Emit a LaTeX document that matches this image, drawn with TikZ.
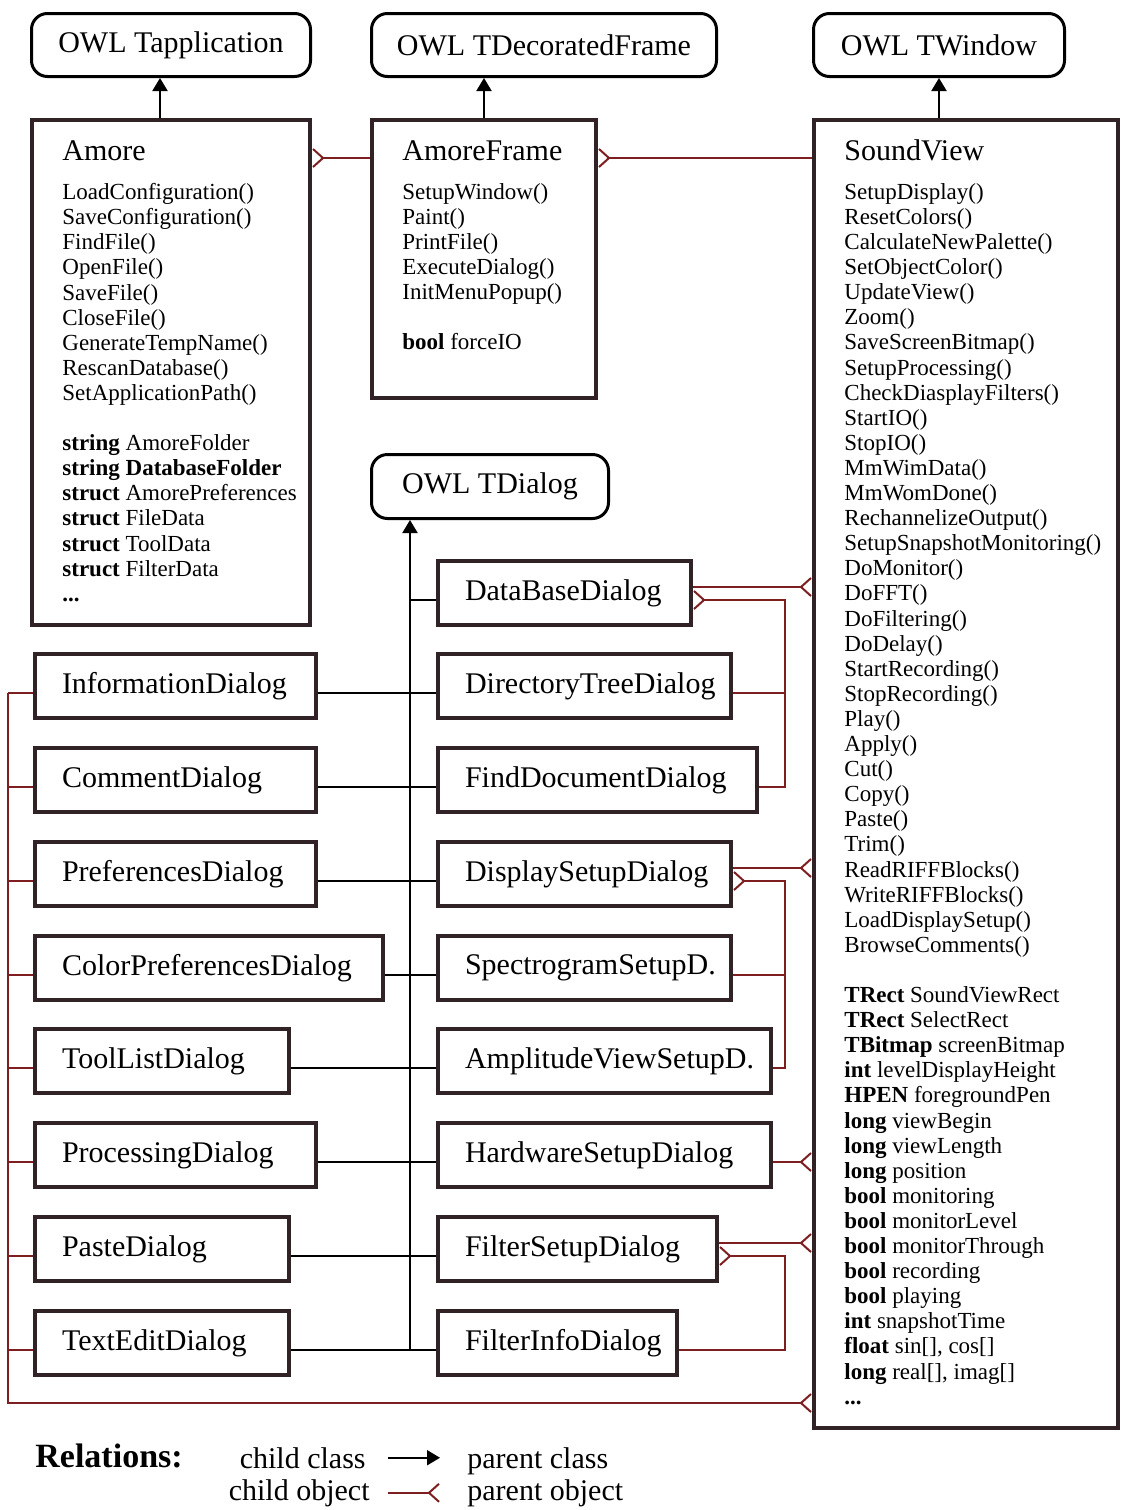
\documentclass[tikz,border=0pt]{standalone}
\usepackage{fontspec}
\setmainfont{Liberation Serif}
\usetikzlibrary{arrows.meta,positioning}
\definecolor{framebrown}{RGB}{48,34,37}
\definecolor{ownred}{RGB}{125,30,32}
\newcommand{\namefont}{\fontsize{15}{18}\selectfont}
\newcommand{\memberfont}{\fontsize{11.5}{12.55}\selectfont}
\newcommand{\owl}[6]{\pgfmathsetmacro{\boxw}{(#4-3)/2}\pgfmathsetmacro{\boxh}{(#5-3)/2}%
  \node[owlframe, minimum width=\boxw pt, minimum height=\boxh pt] (#1) at (#2,#3) {#6};}
\newcommand{\dlg}[5]{\pgfmathsetmacro{\boxw}{(#4-58)/2}%
  \node[dlgframe, text width=\boxw pt] (#1) at (#2,#3) {#5};}
\newcommand{\cls}[5]{\pgfmathsetmacro{\boxw}{(#4-4)/2}\pgfmathsetmacro{\boxh}{(#5-4)/2}%
  \node[classframe, minimum width=\boxw pt, minimum height=\boxh pt] (#1) at (#2,#3) {};}
\tikzset{
  owlframe/.style={draw=black, line width=1.5pt, rounded corners=8pt, anchor=north west, inner sep=0pt, font=\namefont},
  dlgframe/.style={draw=framebrown, line width=2pt, anchor=north west, minimum height=32pt, inner xsep=13.5pt, inner ysep=0pt, align=left, font=\namefont},
  classframe/.style={draw=framebrown, line width=2pt, anchor=north west, inner sep=0pt},
  classname/.style={anchor=base west, inner sep=0pt, font=\namefont},
  members/.style={anchor=north west, inner sep=0pt, align=left, font=\memberfont},
  legendtext/.style={inner sep=0pt, font=\namefont},
  classline/.style={draw=black, line width=1pt},
  classarrow/.style={classline, -{Triangle[length=6.5pt,width=7.5pt]}},
  objline/.style={draw=ownred, line width=1pt},
  objfoot/.style={objline, -{Straight Barb[reversed,length=5pt,width=9pt]}}
}

\begin{document}
\begin{tikzpicture}[x=0.5pt,y=-0.5pt]
\useasboundingbox (0,0) rectangle (1122,1510);
\owl{owlapp}{30}{12}{282}{66}{OWL Tapplication}
\owl{owlframe}{370}{12}{348}{66}{OWL TDecoratedFrame}
\owl{owlwin}{812}{12}{254}{66}{OWL TWindow}
\owl{owldlg}{370}{453}{240}{67}{OWL TDialog}

\cls{amore}{30}{118}{282}{509}
\node[classname] (amore-name) at ([xshift=16pt,yshift=-21pt]amore.north west) {Amore};
\node[members] (amore-list) at ([xshift=16pt,yshift=-32.5pt]amore.north west) {LoadConfiguration()\\ SaveConfiguration()\\ FindFile()\\ OpenFile()\\ SaveFile()\\ CloseFile()\\ GenerateTempName()\\ RescanDatabase()\\ SetApplicationPath()\\[12.55pt]
  \textbf{string} AmoreFolder\\ \textbf{string DatabaseFolder}\\ \textbf{struct} AmorePreferences\\ \textbf{struct} FileData\\ \textbf{struct} ToolData\\ \textbf{struct} FilterData\\ \textbf{...}};

\cls{amoreframe}{370}{118}{228}{282}
\node[classname] (amoreframe-name) at ([xshift=16pt,yshift=-21pt]amoreframe.north west) {AmoreFrame};
\node[members] (amoreframe-list) at ([xshift=16pt,yshift=-32.5pt]amoreframe.north west) {SetupWindow()\\ Paint()\\ PrintFile()\\ ExecuteDialog()\\ InitMenuPopup()\\[12.55pt]
  \textbf{bool} forceIO};

\cls{soundview}{812}{118}{308}{1312}
\node[classname] (soundview-name) at ([xshift=16pt,yshift=-21pt]soundview.north west) {SoundView};
\node[members] (soundview-list) at ([xshift=16pt,yshift=-32.5pt]soundview.north west) {SetupDisplay()\\ ResetColors()\\ CalculateNewPalette()\\ SetObjectColor()\\ UpdateView()\\ Zoom()\\ SaveScreenBitmap()\\ SetupProcessing()\\ CheckDiasplayFilters()\\ StartIO()\\ StopIO()\\ MmWimData()\\ MmWomDone()\\ RechannelizeOutput()\\ SetupSnapshotMonitoring()\\ DoMonitor()\\ DoFFT()\\ DoFiltering()\\ DoDelay()\\ StartRecording()\\ StopRecording()\\ Play()\\ Apply()\\ Cut()\\ Copy()\\ Paste()\\ Trim()\\ ReadRIFFBlocks()\\ WriteRIFFBlocks()\\ LoadDisplaySetup()\\ BrowseComments()\\[12.55pt]
  \textbf{TRect} SoundViewRect\\ \textbf{TRect} SelectRect\\ \textbf{TBitmap} screenBitmap\\ \textbf{int} levelDisplayHeight\\ \textbf{HPEN} foregroundPen\\ \textbf{long} viewBegin\\ \textbf{long} viewLength\\ \textbf{long} position\\ \textbf{bool} monitoring\\ \textbf{bool} monitorLevel\\ \textbf{bool} monitorThrough\\ \textbf{bool} recording\\ \textbf{bool} playing\\ \textbf{int} snapshotTime\\ \textbf{float} sin[], cos[]\\ \textbf{long} real[], imag[]\\ \textbf{...}};

\dlg{info}{33}{652}{285}{InformationDialog}
\dlg{comment}{33}{746}{285}{CommentDialog}
\dlg{prefs}{33}{840}{285}{PreferencesDialog}
\dlg{colorprefs}{33}{934}{352}{ColorPreferencesDialog}
\dlg{toollist}{33}{1027}{258}{ToolListDialog}
\dlg{processing}{33}{1121}{285}{ProcessingDialog}
\dlg{paste}{33}{1215}{258}{PasteDialog}
\dlg{textedit}{33}{1309}{258}{TextEditDialog}

\dlg{database}{436}{559}{257}{DataBaseDialog}
\dlg{dirtree}{436}{652}{297}{DirectoryTreeDialog}
\dlg{finddoc}{436}{746}{323}{FindDocumentDialog}
\dlg{dispsetup}{436}{840}{297}{DisplaySetupDialog}
\dlg{spectro}{436}{934}{297}{SpectrogramSetupD.}
\dlg{ampview}{436}{1027}{337}{AmplitudeViewSetupD.}
\dlg{hwsetup}{436}{1121}{337}{HardwareSetupDialog}
\dlg{filtsetup}{436}{1215}{283}{FilterSetupDialog}
\dlg{filtinfo}{436}{1309}{243}{FilterInfoDialog}

\draw[classarrow] ([xshift=-5.5pt]amore.north) -- ([xshift=-5.5pt]amore.north |- owlapp.south);
\draw[classarrow] (amoreframe.north) -- (amoreframe.north |- owlframe.south);
\draw[classarrow] (owlwin.south |- soundview.north) -- (owlwin.south);

\coordinate (dlgbus) at (410,1350);
\draw[classarrow] (dlgbus) -- (dlgbus |- owldlg.south);
\draw[classline] ([yshift=-3.5pt]database.west) -- ([yshift=-3.5pt]database.west -| dlgbus);
\foreach \lname/\rname in {info/dirtree,comment/finddoc,prefs/dispsetup,colorprefs/spectro,toollist/ampview,processing/hwsetup,paste/filtsetup,textedit/filtinfo}
  \draw[classline] ([yshift=-3.5pt]\lname.east) -- ([yshift=-3.5pt]\lname.east -| \rname.west);

\draw[objfoot] ([yshift=-20pt]amoreframe.north west) -- ([yshift=-20pt]amore.north east);
\draw[objfoot] ([yshift=-20pt]soundview.north west) -- ([yshift=-20pt]amoreframe.north east);

\coordinate (ownbus) at (785,0);
\draw[objfoot] ([yshift=3pt]database.east) -- ([yshift=3pt]database.east -| soundview.west);
\draw[objline] ([yshift=-3.5pt]dirtree.east) -- ([yshift=-3.5pt]dirtree.east -| ownbus);
\draw[objfoot] ([yshift=-3.5pt]finddoc.east) -| ([yshift=-3.5pt]database.east -| ownbus) -- ([yshift=-3.5pt]database.east);
\draw[objfoot] ([yshift=3pt]dispsetup.east) -- ([yshift=3pt]dispsetup.east -| soundview.west);
\draw[objline] ([yshift=-3.5pt]spectro.east) -- ([yshift=-3.5pt]spectro.east -| ownbus);
\draw[objfoot] ([yshift=-3.5pt]ampview.east) -| ([yshift=-3.5pt]dispsetup.east -| ownbus) -- ([yshift=-3.5pt]dispsetup.east);
\draw[objfoot] ([yshift=-3.5pt]hwsetup.east) -- ([yshift=-3.5pt]hwsetup.east -| soundview.west);
\draw[objfoot] ([yshift=3pt]filtsetup.east) -- ([yshift=3pt]filtsetup.east -| soundview.west);
\draw[objfoot] ([yshift=-3.5pt]filtinfo.east) -| ([yshift=-3.5pt]filtsetup.east -| ownbus) -- ([yshift=-3.5pt]filtsetup.east);

\coordinate (leftbus) at (8,1403);
\foreach \dname in {info,comment,prefs,colorprefs,toollist,processing,paste,textedit}
  \draw[objline] ([yshift=-3.5pt]\dname.west) -- ([yshift=-3.5pt]\dname.west -| leftbus);
\draw[objfoot] ([yshift=-3.5pt]info.west -| leftbus) -- (leftbus) -- (leftbus -| soundview.west);

\node[legendtext, anchor=base west, font=\fontsize{17}{20}\selectfont\bfseries] (relations) at (35,1467) {Relations:};
\node[legendtext, anchor=base east] (childclass) at (366,1468) {child class};
\node[legendtext, anchor=base west] (parentclass) at (467,1468) {parent class};
\node[legendtext, anchor=base east] (childobj) at (370,1500) {child object};
\node[legendtext, anchor=base west] (parentobj) at (467,1500) {parent object};
\draw[classarrow] ([xshift=11pt]childclass.east) -- ([xshift=-13.5pt]childclass.east -| parentclass.west);
\draw[objfoot] ([xshift=9pt]childobj.east) -- ([xshift=-13.5pt]childobj.east -| parentobj.west);
\end{tikzpicture}
\end{document}
